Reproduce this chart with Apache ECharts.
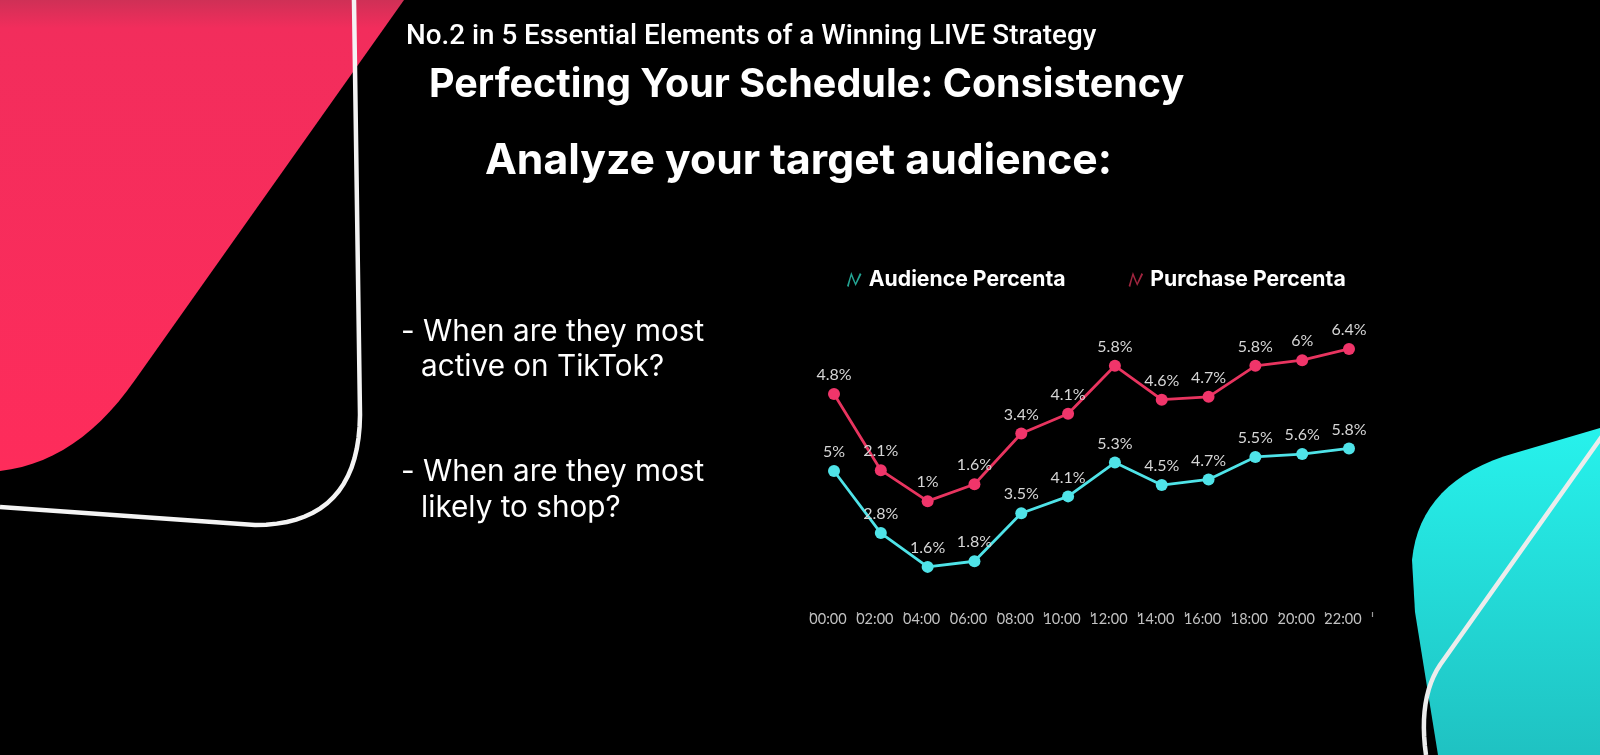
<!DOCTYPE html>
<html>
<head>
<meta charset="utf-8">
<script src="https://cdn.jsdelivr.net/npm/echarts@6/dist/echarts.min.js"></script>
<style>
html,body{margin:0;padding:0;background:#000;}
#c{width:1600px;height:755px;}
</style>
</head>
<body>
<div id="c"></div>
<script>
const categories = ['00:00','02:00','04:00','06:00','08:00','10:00','12:00','14:00','16:00','18:00','20:00','22:00'];
const audiencePct = [5, 2.8, 1.6, 1.8, 3.5, 4.1, 5.3, 4.5, 4.7, 5.5, 5.6, 5.8];
const purchasePct = [4.8, 2.1, 1, 1.6, 3.4, 4.1, 5.8, 4.6, 4.7, 5.8, 6, 6.4];
const seriesNames = ['Audience Percenta', 'Purchase Percenta'];
const headline = 'No.2 in 5 Essential Elements of a Winning LIVE Strategy';
const titleText = 'Perfecting Your Schedule: Consistency';
const subtitleText = 'Analyze your target audience:';
const bullets = ['- When are they most', 'active on TikTok?', '- When are they most', 'likely to shop?'];

// ---- layout helpers (decoration only) ----
const mctx = document.createElement('canvas').getContext('2d');
function fit(text, weight, family, width) {
  mctx.font = weight + ' 100px ' + family;
  return 100 * width / mctx.measureText(text).width;
}
function quad(p0, c, p1, n) {
  const pts = [];
  for (let i = 1; i <= n; i++) {
    const t = i / n;
    pts.push([
      (1-t)*(1-t)*p0[0] + 2*(1-t)*t*c[0] + t*t*p1[0],
      (1-t)*(1-t)*p0[1] + 2*(1-t)*t*c[1] + t*t*p1[1]
    ]);
  }
  return pts;
}
const pinkPts = [[0,0],[404,0],[135,380]].concat(quad([135,380],[78,462],[0,471],14));
const framePts = [[354,0],[360,415]].concat(quad([360,415],[359,525],[255,525],18)).concat([[0,507]]);
const cyanPts = [[1600,428],[1515,453]].concat(quad([1515,453],[1420,480],[1412,560],16)).concat([[1415,612],[1438,755],[1600,755]]);
const cyanLine = [[1610,425],[1440,665]].concat(quad([1440,665],[1418,698],[1426,755],12));

const F1 = '"Roboto"', F2 = '"Inter"';
const s1 = fit(headline, '500', F1, 691);
const s2 = fit(titleText, 'bold', F2, 755);
const s3 = fit(subtitleText, 'bold', F2, 627);
const s4 = fit(bullets[0], 'normal', F2, 303);
const sL = fit(seriesNames[0], 'bold', F2, 197);

const txt = (x, y, s, size, weight, fam) => ({
  type: 'text', x: x, y: y, z: 10,
  style: { text: s, fill: '#fff', font: weight + ' ' + size.toFixed(1) + 'px ' + fam, verticalAlign: 'middle', textVerticalAlign: 'middle' }
});

const chart = echarts.init(document.getElementById('c'));
chart.setOption({
  backgroundColor: '#000',
  graphic: [
    { type: 'polygon', shape: { points: pinkPts }, style: { fill: new echarts.graphic.LinearGradient(0,0,0,1,[{offset:0,color:'#cf3056'},{offset:0.06,color:'#f22d5c'},{offset:1,color:'#fe2c5b'}]) }, z: 1 },
    { type: 'polyline', shape: { points: framePts }, style: { stroke: '#f4f4f4', lineWidth: 4.5, fill: null }, z: 2 },
    { type: 'polygon', shape: { points: cyanPts }, style: { fill: new echarts.graphic.LinearGradient(0,0,0,1,[{offset:0,color:'#27f2ec'},{offset:1,color:'#1fc2c2'}]) }, z: 1 },
    { type: 'polyline', shape: { points: cyanLine }, style: { stroke: '#ececec', lineWidth: 4.5, fill: null }, z: 2 },
    txt(406, 37, headline, s1, '500', F1),
    txt(429, 85, titleText, s2, 'bold', F2),
    txt(485, 161, subtitleText, s3, 'bold', F2),
    txt(401, 332, bullets[0], s4, 'normal', F2),
    txt(421, 367, bullets[1], s4, 'normal', F2),
    txt(401, 472, bullets[2], s4, 'normal', F2),
    txt(421, 508, bullets[3], s4, 'normal', F2)
  ],
  legend: {
    top: 264, left: 842, itemGap: 63, itemWidth: 19, itemHeight: 15,
    textStyle: { color: '#fff', fontSize: sL, fontWeight: 'bold', fontFamily: 'Inter' },
    data: [
      { name: seriesNames[0], icon: 'path://M0,14 L4,1 L8,11 L12,2 L13.5,3 L8,14 L4,5 L1.5,15 Z', itemStyle: { color: '#24a594' } },
      { name: seriesNames[1], icon: 'path://M0,14 L4,1 L8,11 L12,2 L13.5,3 L8,14 L4,5 L1.5,15 Z', itemStyle: { color: '#a0253f' } }
    ]
  },
  grid: [
    { left: 834, right: 251, top: 330, bottom: 143, containLabel: false },
    { left: 810.6, right: 227.6, top: 330, bottom: 143, containLabel: false }
  ],
  xAxis: [
    {
      type: 'category', data: categories, boundaryGap: false, gridIndex: 0,
      axisLine: { show: false }, axisTick: { show: false }, splitLine: { show: false },
      axisLabel: { color: '#c2c2c2', fontSize: 14.5, margin: 0, interval: 0, hideOverlap: false, fontFamily: 'Lato', padding: [0, 12, 0, 0] }
    },
    {
      type: 'category', data: categories, boundaryGap: true, gridIndex: 1,
      axisLine: { show: false }, axisLabel: { show: false, interval: 0 }, splitLine: { show: false },
      axisTick: { show: true, interval: 0, length: 5, lineStyle: { color: '#9a9a9a', width: 1.2 } }
    }
  ],
  yAxis: [
    { type: 'value', min: 0, max: 10, show: false, splitLine: { show: false }, gridIndex: 0 },
    { type: 'value', min: -2.93, max: 7.07, show: false, splitLine: { show: false }, gridIndex: 0 },
    { type: 'value', min: 0, max: 10, show: false, splitLine: { show: false }, gridIndex: 1 }
  ],
  series: [
    {
      name: seriesNames[0], type: 'line', xAxisIndex: 0, yAxisIndex: 0, data: audiencePct,
      symbol: 'circle', symbolSize: 12,
      lineStyle: { color: '#4fe3e8', width: 2.8 }, itemStyle: { color: '#4fe3e8' },
      label: { show: true, position: 'top', distance: 5, formatter: '{c}%', color: '#d6d6d6', fontSize: 16, fontFamily: 'Lato' }
    },
    {
      name: seriesNames[1], type: 'line', xAxisIndex: 0, yAxisIndex: 1, data: purchasePct,
      symbol: 'circle', symbolSize: 12,
      lineStyle: { color: '#e8345f', width: 2.8 }, itemStyle: { color: '#f0356a' },
      label: { show: true, position: 'top', distance: 5, formatter: '{c}%', color: '#d6d6d6', fontSize: 16, fontFamily: 'Lato' }
    }
  ]
});
</script>
</body>
</html>
